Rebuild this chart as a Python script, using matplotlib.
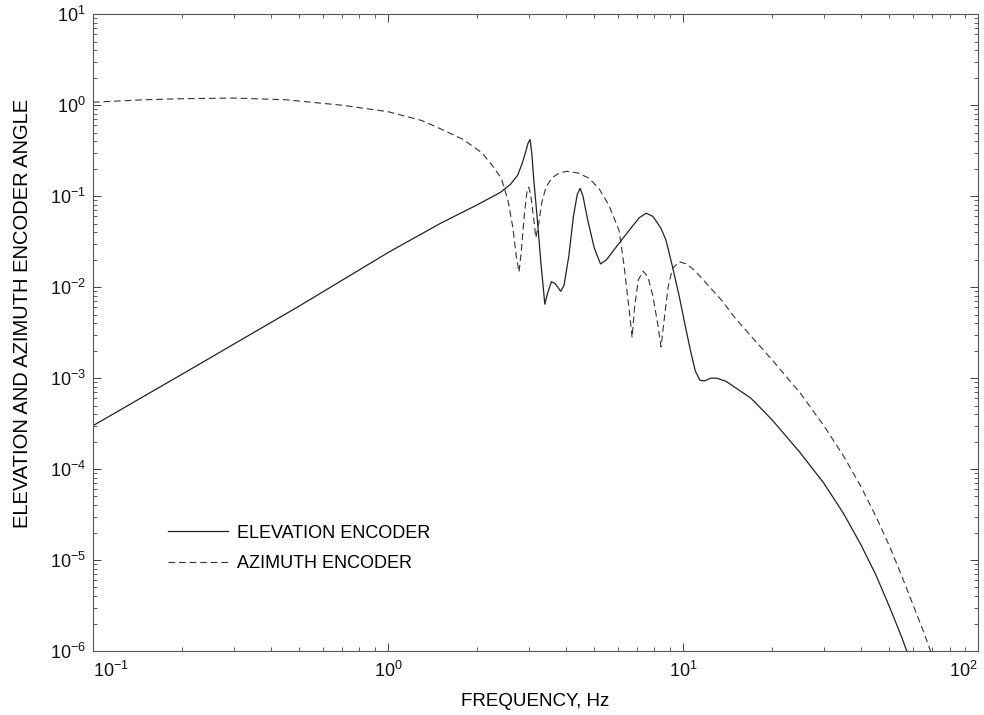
import matplotlib
matplotlib.use("Agg")
import matplotlib.pyplot as plt
from matplotlib.ticker import LogLocator, NullFormatter

plt.rcParams['font.family'] = ['Liberation Sans', 'DejaVu Sans']
plt.rcParams['mathtext.fontset'] = 'custom'
plt.rcParams['mathtext.rm'] = 'Liberation Sans'
plt.rcParams['mathtext.it'] = 'Liberation Sans'
plt.rcParams['mathtext.default'] = 'regular'

elev_freq = [0.1, 0.2, 0.5, 1.0, 1.5, 2.0, 2.4, 2.6, 2.75, 2.85, 2.93, 2.98, 3.03, 3.07,
             3.12, 3.2, 3.3, 3.4, 3.47, 3.58, 3.68, 3.85, 3.95, 4.1, 4.25, 4.38, 4.48,
             4.58, 4.75, 5.0, 5.25, 5.5, 6.0, 6.6, 7.1, 7.5, 7.9, 8.4, 8.75, 9.2, 9.7,
             10.2, 10.6, 11.0, 11.4, 11.8, 12.4, 13.0, 14.0, 17.0, 20.0, 25.0, 30.0,
             35.0, 40.0, 45.0, 50.0, 55.0, 57.3]
elev_amp = [3.0e-4, 1.1e-3, 6.2e-3, 0.024, 0.05, 0.08, 0.11, 0.135, 0.17, 0.23, 0.31,
            0.38, 0.42, 0.3, 0.15, 0.06, 0.018, 0.0065, 0.0085, 0.0115, 0.011, 0.009,
            0.0105, 0.022, 0.06, 0.105, 0.122, 0.1, 0.055, 0.027, 0.018, 0.02, 0.029,
            0.043, 0.058, 0.065, 0.06, 0.045, 0.033, 0.017, 0.008, 0.0036, 0.002,
            0.0012, 0.00095, 0.00093, 0.001, 0.001, 0.00092, 0.0006, 0.00035, 0.00015,
            7e-5, 3.24e-5, 1.49e-5, 6.9e-6, 3.1e-6, 1.44e-6, 1e-6]

azim_freq = [0.1, 0.15, 0.2, 0.3, 0.45, 0.7, 1.0, 1.3, 1.49, 1.8, 2.08, 2.25, 2.42, 2.55,
             2.65, 2.72, 2.78, 2.83, 2.9, 2.96, 3.0, 3.05, 3.11, 3.17, 3.24, 3.32, 3.43,
             3.6, 3.8, 4.04, 4.4, 4.8, 5.2, 5.6, 6.07, 6.3, 6.55, 6.72, 6.85, 7.05, 7.32,
             7.6, 7.9, 8.2, 8.42, 8.6, 8.9, 9.2, 9.7, 10.3, 11.0, 12.0, 13.5, 15.0, 17.5,
             20.0, 25.0, 30.0, 35.0, 40.0, 45.0, 50.0, 55.0, 60.0, 65.0, 69.0]
azim_amp = [1.08, 1.15, 1.18, 1.2, 1.15, 1.0, 0.85, 0.68, 0.56, 0.42, 0.30, 0.22, 0.158,
            0.09, 0.045, 0.022, 0.0146, 0.025, 0.065, 0.115, 0.126, 0.1, 0.06, 0.035,
            0.05, 0.085, 0.126, 0.16, 0.18, 0.188, 0.18, 0.158, 0.12, 0.08, 0.042, 0.018,
            0.006, 0.0028, 0.006, 0.012, 0.015, 0.013, 0.008, 0.004, 0.0022, 0.004, 0.01,
            0.016, 0.019, 0.018, 0.015, 0.011, 0.0072, 0.0046, 0.0026, 0.0016, 6.8e-4,
            3e-4, 1.39e-4, 6.5e-5, 3.04e-5, 1.44e-5, 6.8e-6, 3.3e-6, 1.7e-6, 1e-6]

x_ticks = [0.1, 1, 10, 100]
x_tick_labels = [r'$10^{-1}$', r'$10^{0}$', r'$10^{1}$', r'$10^{2}$']
y_ticks = [1e-6, 1e-5, 1e-4, 1e-3, 1e-2, 1e-1, 1e0, 1e1]
y_tick_labels = [r'$10^{-6}$', r'$10^{-5}$', r'$10^{-4}$', r'$10^{-3}$',
                 r'$10^{-2}$', r'$10^{-1}$', r'$10^{0}$', r'$10^{1}$']

fig = plt.figure(figsize=(9.84, 7.15), dpi=100)
ax = fig.add_axes([0.0945, 0.0895, 0.8995, 0.8905])

ax.plot(elev_freq, elev_amp, color='#222222', lw=0.9, label='ELEVATION ENCODER')
ax.plot(azim_freq, azim_amp, color='#333333', lw=0.8, dashes=(6, 3.5), label='AZIMUTH ENCODER')

ax.set_xscale('log')
ax.set_yscale('log')
ax.set_xlim(0.1, 100)
ax.set_ylim(1e-6, 1e1)

ax.set_xticks(x_ticks)
ax.set_xticklabels(x_tick_labels)
ax.set_yticks(y_ticks)
ax.set_yticklabels(y_tick_labels)
ax.xaxis.set_minor_locator(LogLocator(base=10, subs=range(2, 10), numticks=20))
ax.yaxis.set_minor_locator(LogLocator(base=10, subs=range(2, 10), numticks=20))
ax.yaxis.set_minor_formatter(NullFormatter())
ax.xaxis.set_minor_formatter(NullFormatter())

ax.tick_params(which='both', direction='in', top=True, right=True, colors='#444444',
               labelcolor='#111111', labelsize=13)
ax.tick_params(which='major', length=6, width=0.7)
ax.tick_params(which='minor', length=3, width=0.6)
ax.tick_params(axis='x', pad=7)
ax.tick_params(axis='y', pad=5)
for s in ax.spines.values():
    s.set_color('#555555')
    s.set_linewidth(0.8)

xt = ax.xaxis.get_major_ticks()
xt[0].label1.set_horizontalalignment('left')
xt[-1].label1.set_horizontalalignment('right')

ax.set_xlabel('FREQUENCY, Hz', fontsize=13.5, labelpad=9)
ax.set_ylabel('ELEVATION AND AZIMUTH ENCODER ANGLE', fontsize=14.5)
ax.yaxis.set_label_coords(-0.069, 0.53)

ax.legend(loc='upper left', bbox_to_anchor=(0.077, 0.21), frameon=False, fontsize=13,
          handlelength=3.3, handletextpad=0.5, labelspacing=0.75, borderaxespad=0)

fig.savefig('out.png', dpi=100)
